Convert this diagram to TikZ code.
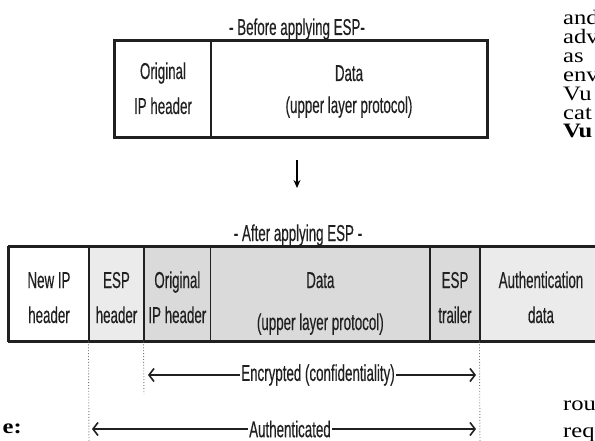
\documentclass[tikz,border=0pt]{standalone}
\usepackage{fontspec}
\usetikzlibrary{arrows.meta}
\newfontfamily\narfont[FakeStretch=0.58,FakeBold=0.35]{Liberation Sans}
\newfontfamily\serfont[FakeStretch=1.2]{Liberation Serif}
\definecolor{encgray}{HTML}{DADADA}
\definecolor{stipgray}{HTML}{EBEBEB}
\definecolor{inkc}{HTML}{202020}
\tikzset{
  lbl/.style={anchor=base, inner sep=0pt, font=\narfont\fontsize{23}{23}\selectfont, text=inkc},
  ptxt/.style={anchor=base west, inner sep=0pt, font=\serfont\fontsize{20.5}{20.5}\selectfont, text=black},
  cell/.style={draw=inkc, line width=1.1pt, inner sep=0pt, minimum height=#1},
  cell/.default=94,
  boxline/.style={draw=inkc, line width=2.2pt},
  guide/.style={draw=black!55, dotted, line width=0.9pt},
  spanarrow/.style={draw=inkc, line width=1.6pt,
     {Straight Barb[length=5pt,width=13pt]}-{Straight Barb[length=5pt,width=13pt]}},
  spanlbl/.style={lbl, anchor=center, fill=white, inner xsep=1.5pt, inner ysep=0pt}
}
\begin{document}
\begin{tikzpicture}[x=1pt,y=-1pt]
\useasboundingbox (0,0) rectangle (595,441);
\clip (0,0) rectangle (595,441);

% ---------- before applying ESP ----------
\node[lbl] (titleBefore) at (297,35) {- Before applying ESP-};
\node[cell=96, minimum width=96] (bHdr) at (163,89) {};
\node[cell=96, minimum width=276] (bData) at (349,89) {};
\draw[boxline] (bHdr.north west) rectangle (bData.south east);
\node[lbl] (bHdrA) at (163,79) {Original};
\node[lbl] (bHdrB) at (163,114) {IP header};
\node[lbl] (bDataA) at (349,81) {Data};
\node[lbl] (bDataB) at (349,113) {(upper layer protocol)};

% ---------- transformation arrow ----------
\coordinate (arrTop) at (297,160);
\coordinate (arrBot) at (297,188);
\draw[draw=black, line width=1.3pt, -{Stealth[length=8pt,width=7pt]}] (arrTop) -- (arrBot);

% ---------- after applying ESP ----------
\node[lbl] (titleAfter) at (298,241) {- After applying ESP -};
\node[cell, minimum width=80, fill=white] (aNew) at (49,294) {};
\node[cell, minimum width=55, fill=stipgray] (aEspH) at (116.5,294) {};
\node[cell, minimum width=66.7, fill=encgray] (aOrig) at (177.35,294) {};
\node[cell, minimum width=219.3, fill=encgray] (aData) at (320.35,294) {};
\node[cell, minimum width=50, fill=encgray] (aTrl) at (455,294) {};
\node[cell, minimum width=125, fill=stipgray] (aAuth) at (542.5,294) {};
\draw[boxline, line width=2.4pt] (aNew.north west) -- (aAuth.north east);
\draw[boxline, line width=2.4pt] (aNew.south west) -- (aAuth.south east);
\draw[boxline] (aNew.north west) -- (aNew.south west);

\node[lbl] (aNewA) at (49,288) {New IP};
\node[lbl] (aNewB) at (49,323) {header};
\node[lbl] (aEspHA) at (116.5,288) {ESP};
\node[lbl] (aEspHB) at (116.5,323) {header};
\node[lbl] (aOrigA) at (177.35,288) {Original};
\node[lbl] (aOrigB) at (177.35,323) {IP header};
\node[lbl] (aDataA) at (320.35,288) {Data};
\node[lbl] (aDataB) at (320.35,330) {(upper layer protocol)};
\node[lbl] (aTrlA) at (455,288) {ESP};
\node[lbl] (aTrlB) at (455,323) {trailer};
\node[lbl] (aAuthA) at (541,288) {Authentication};
\node[lbl] (aAuthB) at (541,323) {data};

% ---------- guides ----------
\coordinate (gAuthL) at (89,445);
\coordinate (gEncL) at (144,394);
\coordinate (gEnd) at (480,445);
\draw[guide] (aEspH.south west) -- (gAuthL);
\draw[guide] (aOrig.south west) -- (gEncL);
\draw[guide] (aAuth.south west) -- (gEnd);

% ---------- spans ----------
\coordinate (encL) at (148,375);
\coordinate (encR) at (476,375);
\coordinate (autL) at (92,429);
\coordinate (autR) at (476,429);
\draw[spanarrow] (encL) -- (encR);
\node[spanlbl] (encLbl) at (318,375) {Encrypted (confidentiality)};
\draw[spanarrow] (autL) -- (autR);
\node[spanlbl] (autLbl) at (290,429) {Authenticated};

% ---------- surrounding page text ----------
\node[ptxt] (p1) at (563,25) {and};
\node[ptxt] (p2) at (563,43.8) {adv};
\node[ptxt] (p3) at (563,62.7) {as};
\node[ptxt] (p4) at (563,81.5) {env};
\node[ptxt] (p5) at (563,100.3) {Vu};
\node[ptxt] (p6) at (563,119.2) {cat};
\node[ptxt, font=\serfont\bfseries\fontsize{20.5}{20.5}\selectfont] (p7) at (563,138) {Vu};
\node[ptxt, anchor=base east, font=\serfont\bfseries\fontsize{20.5}{20.5}\selectfont] (p8) at (22,433) {e:};
\node[ptxt] (p9) at (563,410) {rou};
\node[ptxt] (p10) at (563,437) {req};
\end{tikzpicture}
\end{document}
